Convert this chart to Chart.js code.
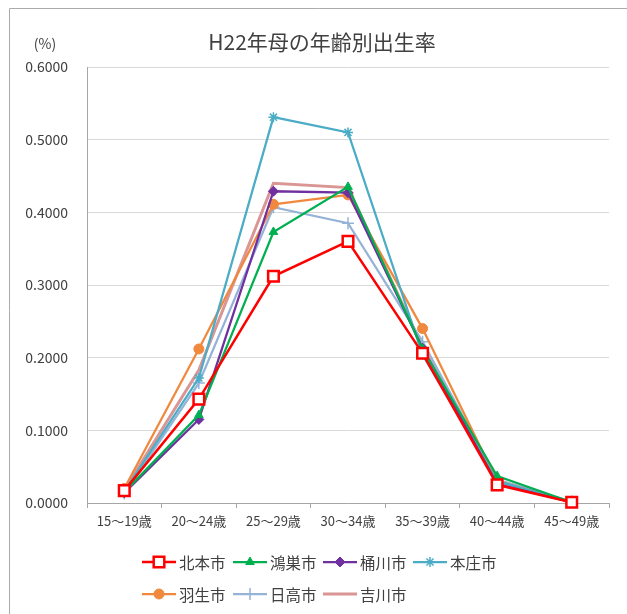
<!DOCTYPE html>
<html>
<head>
<meta charset="utf-8">
<script src="https://cdn.jsdelivr.net/npm/chart.js@4.4.0/dist/chart.umd.min.js"></script>
<style>
  html, body { margin: 0; padding: 0; background: #fff; }
  canvas { display: block; }
</style>
</head>
<body>
<canvas id="birthChart" width="627" height="614"></canvas>
<script>
// age groups on the x axis
const ageGroups = ['15～19歳', '20～24歳', '25～29歳', '30～34歳', '35～39歳', '40～44歳', '45～49歳'];
const yTicks = [0, 0.1, 0.2, 0.3, 0.4, 0.5, 0.6];

// birth rate (%) by city
const kitamoto  = [0.017, 0.143, 0.312, 0.360, 0.206, 0.025, 0.001];
const konosu    = [0.015, 0.121, 0.373, 0.435, 0.212, 0.037, 0.001];
const okegawa   = [0.014, 0.115, 0.429, 0.427, 0.213, 0.026, 0.001];
const honjo     = [0.016, 0.172, 0.531, 0.510, 0.204, 0.030, 0.001];
const hanyu     = [0.020, 0.212, 0.411, 0.424, 0.240, 0.030, 0.001];
const hidaka    = [0.013, 0.165, 0.407, 0.385, 0.222, 0.032, 0.002];
const yoshikawa = [0.018, 0.183, 0.440, 0.434, 0.215, 0.031, 0.001];

const FONT = "'Noto Sans CJK JP', 'Noto Sans', sans-serif";
const TEXT = '#404040';
const TITLE = 'H22年母の年齢別出生率';

const series = [
  { label: '北本市', data: kitamoto, color: '#FF0000', style: 'rect', r: 7.5, fill: '#FFFFFF', bw: 2.5, lw: 2.5 },
  { label: '鴻巣市', data: konosu, color: '#00B050', style: 'triangle', r: 5, bw: 1 },
  { label: '桶川市', data: okegawa, color: '#7030A0', style: 'rectRot', r: 5, bw: 1 },
  { label: '本庄市', data: honjo, color: '#4BACC6', style: 'star', r: 5, bw: 1.5 },
  { label: '羽生市', data: hanyu, color: '#F0883E', style: 'circle', r: 5, bw: 1 },
  { label: '日高市', data: hidaka, color: '#95B3D7', style: 'cross', r: 6, bw: 1.5 },
  { label: '吉川市', data: yoshikawa, color: '#D99694', style: 'circle', r: 0, bw: 0, lw: 3 }
];

// frame, title, "(%)" and the two-row legend drawn straight onto the canvas
const extras = {
  id: 'extras',
  afterDraw(chart) {
    const ctx = chart.ctx;
    ctx.save();
    ctx.strokeStyle = '#ABABAB';
    ctx.lineWidth = 1;
    ctx.beginPath();
    ctx.moveTo(9.5, 614);
    ctx.lineTo(9.5, 8.5);
    ctx.lineTo(627, 8.5);
    ctx.stroke();

    ctx.fillStyle = TEXT;
    ctx.textAlign = 'center';
    ctx.textBaseline = 'middle';
    ctx.font = '21px ' + FONT;
    ctx.fillText(TITLE, 322, 42);
    ctx.font = '14px ' + FONT;
    ctx.fillText('(%)', 45, 44);

    const cols = [142, 233, 323, 413];
    const rows = [562, 594];
    ctx.font = '15.5px ' + FONT;
    ctx.textAlign = 'left';
    series.forEach((s, i) => {
      const x = cols[i % 4];
      const y = rows[Math.floor(i / 4)];
      ctx.strokeStyle = s.color;
      ctx.lineWidth = s.lw || 2.25;
      ctx.beginPath();
      ctx.moveTo(x, y);
      ctx.lineTo(x + 34, y);
      ctx.stroke();
      if (s.r > 0) {
        ctx.fillStyle = s.fill || s.color;
        ctx.strokeStyle = s.color;
        ctx.lineWidth = s.bw;
        Chart.helpers.drawPoint(ctx, { pointStyle: s.style, radius: s.r, rotation: 0, borderWidth: s.bw }, x + 17, y);
      }
      ctx.fillStyle = TEXT;
      ctx.fillText(s.label, x + 37, y + 1);
    });
    ctx.restore();
  }
};

const ctx = document.getElementById('birthChart').getContext('2d');
new Chart(ctx, {
  type: 'line',
  data: {
    labels: ageGroups,
    datasets: series.map(s => ({
      label: s.label,
      data: s.data,
      borderColor: s.color,
      backgroundColor: s.fill || s.color,
      borderWidth: s.lw || 2.25,
      pointStyle: s.style,
      pointRadius: s.r,
      pointHoverRadius: s.r,
      pointBorderWidth: s.bw,
      pointBorderColor: s.color,
      pointBackgroundColor: s.fill || s.color,
      tension: 0,
      clip: false
    }))
  },
  options: {
    responsive: false,
    animation: false,
    layout: { padding: { left: 0, right: 18, top: 67, bottom: 81 } },
    plugins: {
      legend: { display: false },
      tooltip: { enabled: false },
      title: { display: false }
    },
    scales: {
      x: {
        offset: true,
        grid: { drawOnChartArea: false, drawTicks: true, tickLength: 5, color: '#A6A6A6', offset: true },
        border: { color: '#A6A6A6' },
        ticks: { color: TEXT, font: { family: FONT, size: 13 }, padding: 5, maxRotation: 0 },
        afterFit(scale) { scale.height = 30; }
      },
      y: {
        min: 0,
        max: 0.6,
        afterBuildTicks(scale) { scale.ticks = yTicks.map(v => ({ value: v })); },
        grid: { color: '#D9D9D9', drawTicks: false },
        border: { color: '#A6A6A6' },
        ticks: {
          color: TEXT,
          font: { family: FONT, size: 14 },
          padding: 19,
          callback: v => Number(v).toFixed(4)
        },
        afterFit(scale) { scale.width = 87; }
      }
    }
  },
  plugins: [extras]
});
</script>
</body>
</html>
